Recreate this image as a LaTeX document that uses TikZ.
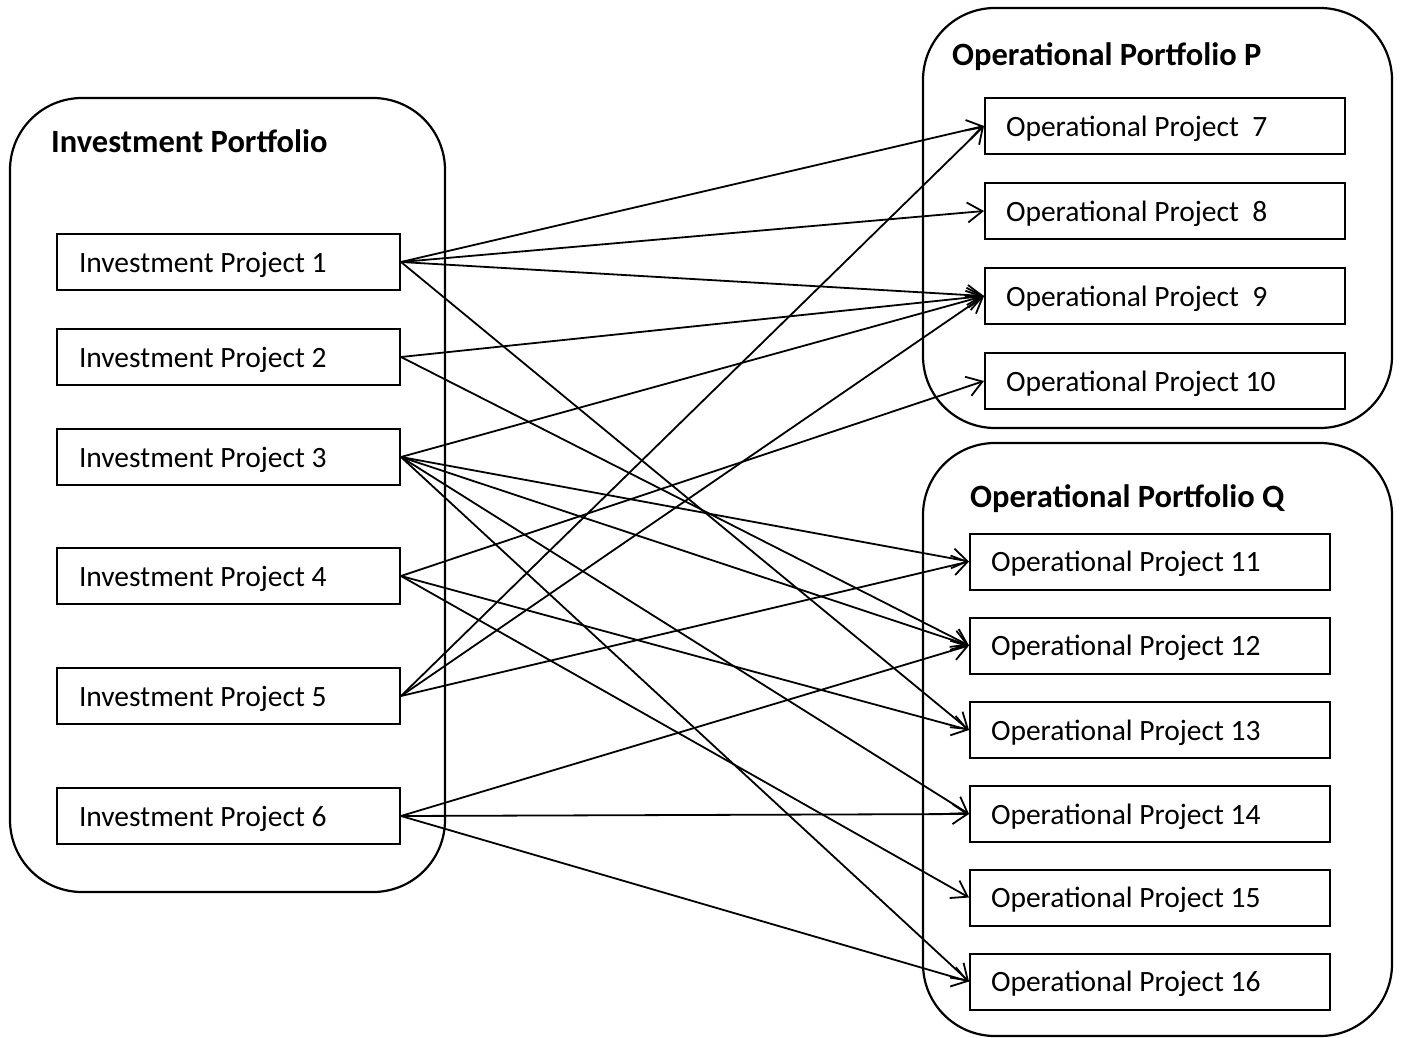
\documentclass[tikz,border=0pt]{standalone}
\usepackage{fontspec}
\setmainfont{Carlito}
\usetikzlibrary{arrows.meta}

\begin{document}
\begin{tikzpicture}[x=1pt, y=-1pt,
  every node/.style={font=\fontsize{29.5}{34}\selectfont},
  portfolio/.style={draw, line width=2.2pt, rounded corners=72pt},
  title/.style={font=\fontsize{32.5}{38}\selectfont\bfseries, anchor=base west, inner sep=0pt},
  project/.style={draw, line width=2pt, fill=white, minimum height=56pt,
    inner ysep=0pt, text height=26pt, text depth=6pt, align=flush left},
  ipbox/.style={project, text width=299pt, inner xsep=22pt},
  opbox/.style={project, text width=318pt, inner xsep=21pt},
  conn/.style={line width=1.8pt, -{Straight Barb[length=15pt,width=20pt]}}
]
\useasboundingbox (0,0) rectangle (1413,1038);

% portfolio containers
\draw[portfolio] (10,98) rectangle (445,892);
\draw[portfolio] (923,8) rectangle (1392,428);
\draw[portfolio] (923,443) rectangle (1392,1036);

\node[title] (tinv) at (51,153) {Investment Portfolio};
\node[title] (tp) at (952,66) {Operational Portfolio P};
\node[title] (tq) at (970,507) {Operational Portfolio Q};

% investment projects
\node[ipbox] (ip1) at (228.5,262) {Investment Project 1};
\node[ipbox] (ip2) at (228.5,357) {Investment Project 2};
\node[ipbox] (ip3) at (228.5,457) {Investment Project 3};
\node[ipbox] (ip4) at (228.5,576) {Investment Project 4};
\node[ipbox] (ip5) at (228.5,696) {Investment Project 5};
\node[ipbox] (ip6) at (228.5,816) {Investment Project 6};

% operational portfolio P
\node[opbox] (op7)  at (1165,126) {Operational Project~~7};
\node[opbox] (op8)  at (1165,211) {Operational Project~~8};
\node[opbox] (op9)  at (1165,296) {Operational Project~~9};
\node[opbox] (op10) at (1165,381) {Operational Project 10};

% operational portfolio Q
\node[opbox] (op11) at (1150,561.5) {Operational Project 11};
\node[opbox] (op12) at (1150,645.5) {Operational Project 12};
\node[opbox] (op13) at (1150,730) {Operational Project 13};
\node[opbox] (op14) at (1150,814) {Operational Project 14};
\node[opbox] (op15) at (1150,897.5) {Operational Project 15};
\node[opbox] (op16) at (1150,981.5) {Operational Project 16};

% links from investment to operational projects
\draw[conn] (ip1.east) -- (op7.west);
\draw[conn] (ip1.east) -- (op8.west);
\draw[conn] (ip1.east) -- (op9.west);
\draw[conn] (ip1.east) -- (op13.west);
\draw[conn] (ip2.east) -- (op9.west);
\draw[conn] (ip2.east) -- (op12.west);
\draw[conn] (ip3.east) -- (op9.west);
\draw[conn] (ip3.east) -- (op11.west);
\draw[conn] (ip3.east) -- (op12.west);
\draw[conn] (ip3.east) -- (op14.west);
\draw[conn] (ip3.east) -- (op16.west);
\draw[conn] (ip4.east) -- (op10.west);
\draw[conn] (ip4.east) -- (op13.west);
\draw[conn] (ip4.east) -- (op15.west);
\draw[conn] (ip5.east) -- (op7.west);
\draw[conn] (ip5.east) -- (op9.west);
\draw[conn] (ip5.east) -- (op11.west);
\draw[conn] (ip6.east) -- (op12.west);
\draw[conn] (ip6.east) -- (op14.west);
\draw[conn] (ip6.east) -- (op16.west);
\end{tikzpicture}
\end{document}
